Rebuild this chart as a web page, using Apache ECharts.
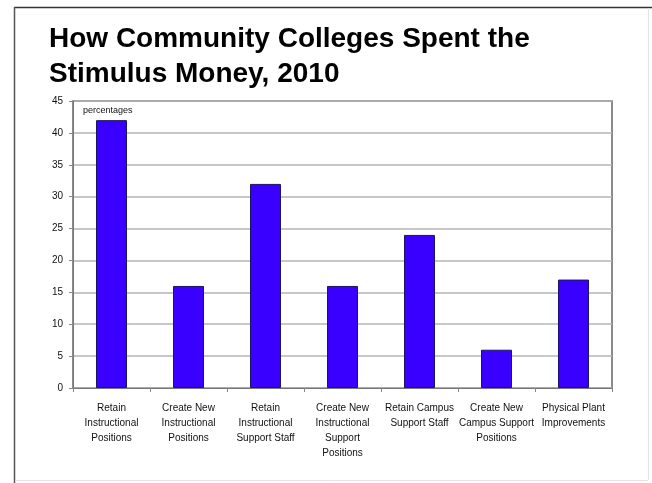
<!DOCTYPE html>
<html>
<head>
<meta charset="utf-8">
<script src="https://cdn.jsdelivr.net/npm/echarts@6/dist/echarts.min.js"></script>
<style>
  html, body { margin: 0; padding: 0; background: #ffffff; }
  #chart { width: 652px; height: 483px; }
</style>
</head>
<body>
<div id="chart"></div>
<script>
// Spending categories (x axis) and share of colleges, in percent
const categories = [
  'Retain\nInstructional\nPositions',
  'Create New\nInstructional\nPositions',
  'Retain\nInstructional\nSupport Staff',
  'Create New\nInstructional\nSupport\nPositions',
  'Retain Campus\nSupport Staff',
  'Create New\nCampus Support\nPositions',
  'Physical Plant\nImprovements'
];
const percentages = [42, 16, 32, 16, 24, 6, 17];

// Value axis range and step
const yMin = 0;
const yMax = 45;
const yStep = 5;

const labelFont = '"Liberation Sans", Arial, sans-serif';

const chart = echarts.init(document.getElementById('chart'), null, { renderer: 'canvas' });

chart.setOption({
  backgroundColor: '#ffffff',
  animation: false,
  title: {
    text: 'How Community Colleges Spent the\nStimulus Money, 2010',
    left: 44,
    top: 17,
    textStyle: {
      fontFamily: labelFont,
      fontWeight: 'bold',
      fontSize: 28,
      lineHeight: 35,
      color: '#000000'
    }
  },
  graphic: [
    // page frame
    { type: 'line', shape: { x1: 14, y1: 7.5, x2: 652, y2: 7.5 }, style: { stroke: '#333333', lineWidth: 1.5 }, z: 100 },
    { type: 'line', shape: { x1: 14.5, y1: 7, x2: 14.5, y2: 483 }, style: { stroke: '#555555', lineWidth: 1.5 }, z: 100 },
    { type: 'line', shape: { x1: 648.5, y1: 8, x2: 648.5, y2: 480 }, style: { stroke: '#e4e4e4', lineWidth: 1 }, z: 100 },
    { type: 'line', shape: { x1: 15, y1: 480.5, x2: 648, y2: 480.5 }, style: { stroke: '#e4e4e4', lineWidth: 1 }, z: 100 },
    // unit note inside the plot
    {
      type: 'text', left: 83, top: 106,
      style: { text: 'percentages', font: '9px ' + labelFont, fill: '#111111' },
      z: 100
    }
  ],
  grid: {
    left: 73,
    top: 101,
    right: 40,
    bottom: 95,
    show: true,
    borderColor: '#666666',
    borderWidth: 1.5,
    backgroundColor: '#ffffff'
  },
  xAxis: {
    type: 'category',
    data: categories,
    axisLine: { show: true, lineStyle: { color: '#777777', width: 1 } },
    axisTick: { show: true, alignWithLabel: false, length: 4, lineStyle: { color: '#888888' } },
    axisLabel: {
      interval: 0,
      margin: 13,
      fontFamily: labelFont,
      fontSize: 10,
      lineHeight: 15,
      color: '#111111'
    }
  },
  yAxis: {
    type: 'value',
    min: yMin,
    max: yMax,
    interval: yStep,
    axisLine: { show: true, lineStyle: { color: '#777777' } },
    axisTick: { show: true, length: 4, lineStyle: { color: '#888888' } },
    splitLine: { show: true, lineStyle: { color: '#b4b4b4', width: 1.5 } },
    axisLabel: {
      margin: 10,
      fontFamily: labelFont,
      fontSize: 10,
      color: '#111111'
    }
  },
  series: [{
    type: 'bar',
    data: percentages,
    barWidth: 31,
    itemStyle: {
      color: '#3a00ff',
      borderColor: '#1c1466',
      borderWidth: 1
    }
  }]
});
</script>
</body>
</html>
